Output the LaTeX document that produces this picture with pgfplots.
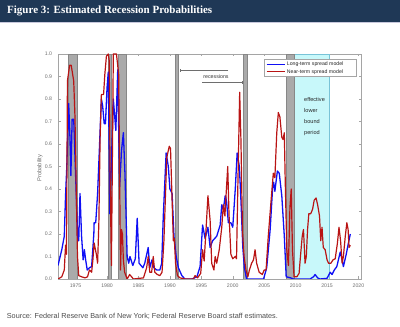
\documentclass[border=0pt]{standalone}
\usepackage{graphicx}
\usepackage{pgfplots}
\pgfplotsset{compat=1.18}
\usepackage{fontspec}
\setmainfont{Liberation Sans}
\newfontfamily\titlefont{Liberation Serif}
\usetikzlibrary{arrows.meta}
\definecolor{navy}{RGB}{31,56,86}
\definecolor{lav}{RGB}{200,200,220}
\definecolor{recgray}{RGB}{170,170,170}
\definecolor{recedge}{RGB}{135,135,135}
\definecolor{elbcyan}{RGB}{200,248,250}
\definecolor{elbedge}{RGB}{120,195,215}
\definecolor{ltblue}{RGB}{15,15,245}
\definecolor{ntred}{RGB}{185,20,20}
\definecolor{tickgray}{RGB}{110,110,110}
\definecolor{axgray}{RGB}{165,165,165}

\pgfplotstableread{
x y
1972.2 0.06
1972.8 0.13
1973.2 0.19
1973.4 0.37
1973.6 0.50
1973.9 0.78
1974.1 0.63
1974.25 0.46
1974.45 0.71
1974.7 0.71
1975.35 0.17
1975.5 0.17
1975.7 0.38
1975.95 0.19
1976.2 0.085
1976.4 0.13
1976.6 0.085
1976.85 0.04
1977.2 0.05
1977.55 0.055
1977.9 0.20
1977.95 0.25
1978.2 0.25
1978.5 0.38
1978.9 0.66
1979.1 0.80
1979.3 0.77
1979.55 0.69
1979.75 0.69
1980.0 0.85
1980.2 0.92
1980.45 0.29
1981.0 0.80
1981.4 0.66
1981.7 0.93
1982.0 0.41
1982.3 0.57
1982.6 0.65
1982.85 0.47
1983.2 0.10
1983.45 0.07
1983.65 0.10
1984.1 0.06
1984.5 0.09
1984.8 0.27
1985.1 0.07
1985.7 0.05
1986.0 0.07
1986.55 0.14
1986.8 0.05
1987.15 0.085
1987.45 0.05
1987.9 0.04
1988.4 0.04
1988.7 0.07
1988.95 0.28
1989.4 0.56
1989.75 0.50
1990.0 0.40
1990.35 0.38
1990.65 0.19
1991.0 0.10
1991.35 0.05
1991.9 0.015
1992.4 0.0
1993.5 0.0
1994.3 0.01
1994.8 0.055
1995.2 0.24
1995.6 0.18
1996.05 0.23
1996.4 0.14
1996.8 0.17
1997.45 0.19
1998.0 0.24
1998.25 0.33
1998.5 0.31
1998.8 0.37
1999.0 0.35
1999.3 0.25
1999.7 0.25
2000.0 0.23
2000.4 0.40
2000.7 0.56
2001.05 0.50
2001.3 0.35
2001.6 0.14
2001.85 0.05
2002.2 0.0
2004.9 0.0
2005.4 0.05
2005.95 0.22
2006.35 0.41
2006.5 0.43
2006.7 0.39
2007.1 0.48
2007.4 0.47
2007.8 0.37
2008.2 0.19
2008.5 0.01
2009.2 0.005
2009.65 0.0
2012.3 0.0
2012.85 0.01
2013.1 0.02
2013.5 0.005
2013.9 0.0
2015.0 0.003
2015.5 0.03
2015.8 0.02
2016.15 0.04
2016.55 0.055
2017.1 0.12
2017.35 0.09
2017.6 0.055
2018.05 0.11
2018.4 0.16
2018.7 0.20
}\longterm

\pgfplotstableread{
x y
1972.2 0.0
1972.8 0.01
1973.2 0.04
1973.4 0.15
1973.55 0.11
1973.7 0.88
1974.05 0.95
1974.3 0.95
1974.7 0.88
1974.9 0.72
1975.1 0.40
1975.3 0.10
1975.5 0.015
1975.95 0.01
1976.5 0.005
1976.9 0.01
1977.2 0.04
1977.55 0.03
1977.75 0.085
1977.95 0.16
1978.3 0.11
1978.5 0.07
1978.7 0.25
1978.9 0.63
1979.1 0.82
1979.45 0.82
1979.65 0.91
1979.9 0.99
1980.2 1.0
1980.35 0.97
1980.5 0.43
1980.7 0.06
1981.0 1.0
1981.5 1.0
1981.85 0.91
1982.05 0.32
1982.15 0.04
1982.3 0.22
1982.45 0.20
1982.6 0.085
1982.8 0.03
1983.2 0.0
1983.6 0.02
1984.2 0.0
1985.8 0.005
1986.3 0.05
1986.55 0.10
1986.8 0.03
1987.1 0.03
1987.35 0.10
1987.6 0.03
1988.0 0.02
1988.4 0.015
1988.75 0.03
1989.05 0.17
1989.5 0.54
1989.9 0.59
1990.1 0.58
1990.35 0.35
1990.55 0.17
1990.7 0.18
1990.9 0.07
1991.2 0.015
1991.6 0.005
1992.4 0.0
1993.75 0.0
1994.0 0.015
1994.4 0.005
1994.9 0.025
1995.2 0.13
1995.45 0.08
1995.75 0.22
1996.05 0.37
1996.4 0.26
1996.65 0.07
1997.0 0.04
1997.2 0.10
1997.45 0.07
1997.85 0.13
1998.25 0.23
1998.5 0.33
1998.75 0.28
1998.95 0.38
1999.2 0.50
1999.4 0.29
1999.7 0.11
2000.0 0.09
2000.4 0.10
2000.6 0.09
2000.8 0.40
2001.1 0.83
2001.3 0.62
2001.55 0.21
2001.8 0.10
2002.1 0.04
2002.4 0.01
2002.65 0.04
2003.0 0.07
2003.3 0.085
2003.55 0.13
2003.8 0.07
2004.2 0.03
2004.7 0.02
2005.0 0.04
2005.3 0.04
2005.65 0.19
2006.1 0.35
2006.45 0.47
2006.7 0.45
2007.0 0.65
2007.25 0.74
2007.5 0.72
2007.8 0.63
2008.0 0.62
2008.2 0.65
2008.35 0.43
2008.6 0.13
2008.85 0.06
2009.1 0.32
2009.3 0.40
2009.5 0.13
2009.75 0.01
2010.2 0.01
2010.55 0.025
2010.8 0.11
2011.05 0.19
2011.25 0.22
2011.5 0.07
2011.7 0.10
2011.9 0.22
2012.1 0.29
2012.4 0.29
2012.7 0.31
2012.95 0.35
2013.25 0.36
2013.5 0.33
2013.8 0.28
2014.0 0.17
2014.2 0.23
2014.4 0.14
2014.7 0.13
2015.0 0.085
2015.25 0.07
2015.6 0.07
2015.95 0.085
2016.3 0.09
2016.65 0.16
2016.9 0.23
2017.15 0.17
2017.4 0.07
2017.6 0.10
2017.9 0.19
2018.15 0.25
2018.35 0.22
2018.5 0.14
2018.7 0.15
}\nearterm

\begin{document}
\begin{tikzpicture}[x=1bp,y=1bp]
\path[use as bounding box] (0,0) rectangle (400,327);
\fill[navy] (0,305) rectangle (400,327);
\fill[lav] (0,303.5) rectangle (400,305);
\node[anchor=west, text=white, inner sep=0] at (7,316)
  {\resizebox{205bp}{!}{\titlefont\bfseries Figure 3: Estimated Recession Probabilities}};

\begin{axis}[
  at={(58bp,48bp)}, anchor=south west,
  width=303bp, height=225bp, scale only axis,
  xmin=1972.2, xmax=2020.4, ymin=0, ymax=1,
  xtick={1975,1980,...,2020},
  ytick={0,0.1,...,1.01},
  x tick label style={/pgf/number format/1000 sep={}, yshift=-1.5bp},
  y tick label style={/pgf/number format/.cd, fixed, fixed zerofill, precision=1, /tikz/.cd, xshift=-2.5bp},
  /pgf/number format/assume math mode=true,
  tick label style={font=\fontsize{5.2}{6}\selectfont, text=tickgray},
  tick align=inside,
  major tick length=2.5bp,
  tick style={draw=axgray, line width=0.5bp},
  axis line style={draw=axgray, line width=0.8bp},
]
\addplot[forget plot, fill=elbcyan, draw=elbedge, line width=0.5bp] coordinates {(2008.5,1) (2015.4,1)} \closedcycle;
\addplot[forget plot, fill=recgray, draw=recedge, line width=0.4bp] coordinates {(1973.9,1) (1975.3,1)} \closedcycle;
\addplot[forget plot, fill=recgray, draw=recedge, line width=0.4bp] coordinates {(1980.2,1) (1980.6,1)} \closedcycle;
\addplot[forget plot, fill=recgray, draw=recedge, line width=0.4bp] coordinates {(1981.8,1) (1983.1,1)} \closedcycle;
\addplot[forget plot, fill=recgray, draw=recedge, line width=0.4bp] coordinates {(1990.8,1) (1991.4,1)} \closedcycle;
\addplot[forget plot, fill=recgray, draw=recedge, line width=0.4bp] coordinates {(2001.7,1) (2002.3,1)} \closedcycle;
\addplot[forget plot, fill=recgray, draw=recedge, line width=0.4bp] coordinates {(2008.5,1) (2009.8,1)} \closedcycle;
\addplot[draw=ltblue, line width=1.3bp, line join=round] table {\longterm};
\addplot[draw=ntred, line width=1.2bp, line join=round] table {\nearterm};
\end{axis}

% legend
\draw[axgray, line width=0.5bp, fill=white] (264.3,251) rectangle (356,267.7);
\draw[ltblue, line width=1.1bp] (266.7,262.7) -- (285,262.7);
\draw[ntred, line width=1.1bp] (266.7,255.2) -- (285,255.2);
\begin{scope}[every node/.style={anchor=west, inner sep=0, font=\fontsize{5.2}{6}\selectfont, text=black!85}]
\node at (286.7,262.7) {Long-term spread model};
\node at (286.7,255.2) {Near-term spread model};
\end{scope}

% annotations
\draw[tickgray, line width=0.5bp, -{Bar[width=3bp]}] (228.3,256.7) -- (180,256.7);
\draw[tickgray, line width=0.5bp, -{Bar[width=3bp]}] (202.3,244.3) -- (242.3,244.3);
\node[font=\fontsize{5.3}{6}\selectfont, text=black!80, inner sep=0] at (216,250.3) {recessions};
\begin{scope}[every node/.style={anchor=west, inner sep=0, font=\fontsize{5.6}{6}\selectfont, text=black!85}]
\node at (304,227.7) {effective};
\node at (304,216.3) {lower};
\node at (304,205.3) {bound};
\node at (304,194.3) {period};
\end{scope}
\node[rotate=90, font=\fontsize{5.8}{6}\selectfont, text=tickgray, inner sep=0] at (40,159) {Probability};
\node[anchor=west, inner sep=0, text=black!70] at (6.7,10.7)
  {\resizebox{271bp}{!}{Source: Federal Reserve Bank of New York; Federal Reserve Board staff estimates.}};
\end{tikzpicture}
\end{document}
